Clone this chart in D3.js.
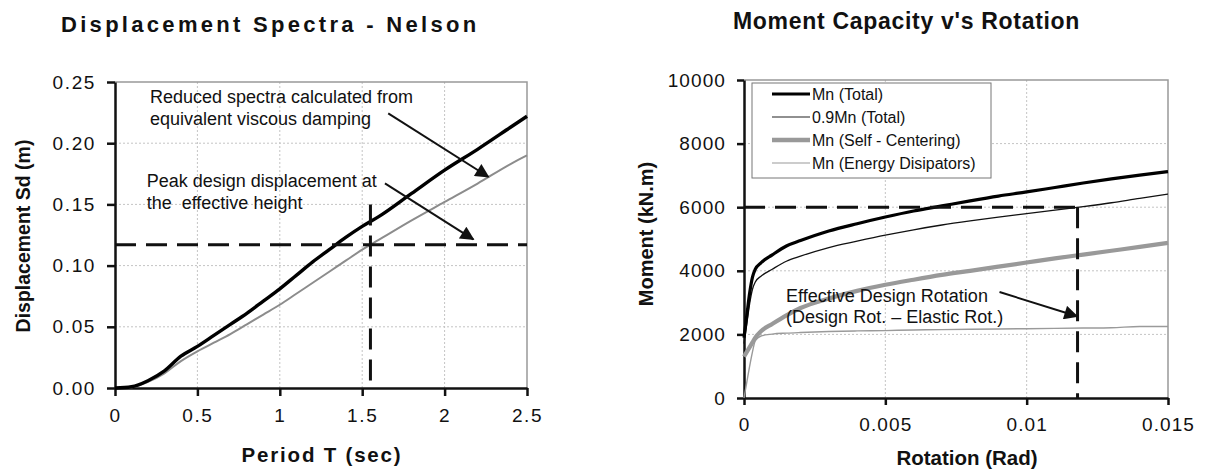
<!DOCTYPE html>
<html>
<head>
<meta charset="utf-8">
<script src="https://d3js.org/d3.v7.min.js"></script>
<style>
  body { margin: 0; background: #fff; }
  svg text { font-family: "Liberation Sans", Arial, sans-serif; fill: #111; }
  .grid line { stroke: #c4c4c4; stroke-width: 1; stroke-dasharray: 2,2; }
  .axis path, .axis line { stroke: #111; stroke-width: 2.5; }
</style>
</head>
<body>
<div id="chart"></div>
<script>
// ---- left panel: displacement spectra ----
var periodT = [0, 0.1, 0.2, 0.3, 0.4, 0.5, 0.6, 0.7, 0.8, 0.9, 1.0, 1.1, 1.2, 1.3, 1.4, 1.5, 1.6, 1.8, 2.0, 2.2, 2.4, 2.5];
var sdSpectrum = [0, 0.001, 0.006, 0.014, 0.026, 0.034, 0.043, 0.052, 0.061, 0.071, 0.081, 0.092, 0.103, 0.113, 0.123, 0.132, 0.140, 0.159, 0.178, 0.195, 0.213, 0.222];
var sdReduced = [0, 0.0005, 0.005, 0.012, 0.022, 0.030, 0.037, 0.044, 0.052, 0.060, 0.068, 0.077, 0.086, 0.095, 0.104, 0.113, 0.121, 0.137, 0.152, 0.167, 0.183, 0.190];
var periodTicks = [0, 0.5, 1, 1.5, 2, 2.5];
var periodLabels = ["0", "0.5", "1", "1.5", "2", "2.5"];
var sdTicks = [0, 0.05, 0.10, 0.15, 0.20, 0.25];
var sdLabels = ["0.00", "0.05", "0.10", "0.15", "0.20", "0.25"];
var designT = 1.55, designTopSd = 0.15, designSd = 0.117;

// ---- right panel: moment capacity ----
var rotation = [0, 0.0001, 0.0002, 0.0003, 0.0004, 0.0006, 0.001, 0.0015, 0.002, 0.003, 0.004, 0.005, 0.006, 0.007, 0.008, 0.009, 0.010, 0.011, 0.012, 0.013, 0.014, 0.015];
var mnTotal = [1900, 2600, 3300, 3800, 4050, 4250, 4500, 4780, 4950, 5250, 5480, 5690, 5880, 6040, 6200, 6350, 6480, 6620, 6760, 6890, 7010, 7120];
var mn90Total = [1710, 2340, 2970, 3420, 3650, 3830, 4050, 4300, 4460, 4730, 4930, 5120, 5290, 5440, 5570, 5690, 5800, 5910, 6020, 6140, 6280, 6410];
var mnSelfCentering = [1300, 1450, 1600, 1750, 1900, 2100, 2330, 2600, 2830, 3130, 3370, 3560, 3720, 3870, 4000, 4130, 4260, 4390, 4510, 4630, 4750, 4880];
var mnEnergyDiss = [0, 500, 1000, 1450, 1800, 1950, 2010, 2040, 2060, 2090, 2110, 2120, 2140, 2150, 2160, 2170, 2180, 2190, 2200, 2210, 2250, 2250];
var rotTicks = [0, 0.005, 0.01, 0.015];
var rotLabels = ["0", "0.005", "0.01", "0.015"];
var momentTicks = [0, 2000, 4000, 6000, 8000, 10000];
var seriesNames = ["Mn (Total)", "0.9Mn (Total)", "Mn (Self - Centering)", "Mn (Energy Disipators)"];
var designRot = 0.0118, designM = 6000;

var svg = d3.select("#chart").append("svg")
  .attr("width", 1206)
  .attr("height", 470);

// arrow head
svg.append("defs").append("marker")
  .attr("id", "head")
  .attr("viewBox", "0 0 10 10")
  .attr("refX", 9).attr("refY", 5)
  .attr("markerWidth", 8.5).attr("markerHeight", 7)
  .attr("markerUnits", "strokeWidth")
  .attr("orient", "auto")
  .append("path").attr("d", "M0,0 L10,5 L0,10 z").attr("fill", "#111");

function panel(left, top, width, height, xDomain, yDomain) {
  var g = svg.append("g").attr("transform", `translate(${left}, ${top})`);
  var x = d3.scaleLinear().domain(xDomain).range([0, width]);
  var y = d3.scaleLinear().domain(yDomain).range([height, 0]);
  return { g: g, x: x, y: y, w: width, h: height };
}

function frame(p, xTicks, xLabels, yTicks, yLabels, tickSize, spacing) {
  // gridlines
  p.g.append("g").attr("class", "grid")
    .selectAll("line").data(xTicks.slice(1, -1)).enter().append("line")
    .attr("x1", d => p.x(d)).attr("x2", d => p.x(d))
    .attr("y1", 0).attr("y2", p.h);
  p.g.append("g").attr("class", "grid")
    .selectAll("line").data(yTicks.slice(1, -1)).enter().append("line")
    .attr("x1", 0).attr("x2", p.w)
    .attr("y1", d => p.y(d)).attr("y2", d => p.y(d));
  // top / right border
  p.g.append("path")
    .attr("d", `M0,0 H${p.w} V${p.h}`)
    .attr("fill", "none").attr("stroke", "#999").attr("stroke-width", 1.5);

  var xAxis = d3.axisBottom(p.x).tickValues(xTicks)
    .tickFormat((d, i) => xLabels[i]).tickSize(tickSize).tickSizeOuter(0).tickPadding(13);
  var yAxis = d3.axisLeft(p.y).tickValues(yTicks)
    .tickFormat((d, i) => yLabels[i]).tickSize(tickSize).tickSizeOuter(0).tickPadding(11);

  p.g.append("g").attr("class", "axis")
    .attr("transform", `translate(0, ${p.h})`)
    .call(xAxis)
    .selectAll("text").attr("font-size", "19px").attr("letter-spacing", spacing);
  p.g.append("g").attr("class", "axis")
    .call(yAxis)
    .selectAll("text").attr("font-size", "19px").attr("letter-spacing", spacing);
  svg.selectAll(".axis text").attr("fill", "#111");
}

function addLine(p, xs, ys, color, width) {
  var line = d3.line().x((d, i) => p.x(xs[i])).y(d => p.y(d)).curve(d3.curveMonotoneX);
  p.g.append("path").datum(ys)
    .attr("fill", "none").attr("stroke", color).attr("stroke-width", width)
    .attr("stroke-linejoin", "round").attr("d", line);
}

function dashed(p, x1, y1, x2, y2) {
  p.g.append("line")
    .attr("x1", p.x(x1)).attr("y1", p.y(y1)).attr("x2", p.x(x2)).attr("y2", p.y(y2))
    .attr("stroke", "#111").attr("stroke-width", 3).attr("stroke-dasharray", "21,10");
}

function arrow(p, x1, y1, x2, y2) {
  p.g.append("line")
    .attr("x1", p.x(x1)).attr("y1", p.y(y1)).attr("x2", p.x(x2)).attr("y2", p.y(y2))
    .attr("stroke", "#111").attr("stroke-width", 2).attr("marker-end", "url(#head)");
}

function note(p, x0, y0, lines, size, lineGap) {
  var t = p.g.append("text").attr("font-size", size);
  lines.forEach(function(s, i) {
    t.append("tspan").attr("x", p.x(x0)).attr("y", p.y(y0) + i * lineGap)
      .attr("xml:space", "preserve").text(s);
  });
}

// ================= left chart =================
var left = panel(115, 82, 412, 306, [0, 2.5], [0, 0.25]);
frame(left, periodTicks, periodLabels, sdTicks, sdLabels, 8, "1.6px");

addLine(left, periodT, sdReduced, "#8c8c8c", 2);
addLine(left, periodT, sdSpectrum, "#000", 3.4);

dashed(left, 0, designSd, 2.5, designSd);
dashed(left, designT, designTopSd, designT, 0);

note(left, 0.212, 0.2326, ["Reduced spectra calculated from", "equivalent viscous damping"], "18px", 22);
note(left, 0.192, 0.1645, ["Peak design displacement at", "the  effective height"], "18px", 22);
arrow(left, 1.658, 0.2244, 2.265, 0.1726);
arrow(left, 1.638, 0.1672, 2.174, 0.1215);

svg.append("text")
  .attr("x", 61).attr("y", 32)
  .attr("font-size", "22px").attr("font-weight", "bold").attr("letter-spacing", "3.3px")
  .text("Displacement Spectra - Nelson");

svg.append("text")
  .attr("x", 322).attr("y", 462).attr("text-anchor", "middle")
  .attr("font-size", "20.5px").attr("font-weight", "bold").attr("letter-spacing", "1.8px")
  .text("Period T (sec)");

svg.append("text")
  .attr("transform", "translate(30, 236) rotate(-90)")
  .attr("text-anchor", "middle")
  .attr("font-size", "19.5px").attr("font-weight", "bold")
  .text("Displacement Sd (m)");

// ================= right chart =================
var right = panel(744, 80, 424, 318, [0, 0.015], [0, 10000]);
frame(right, rotTicks, rotLabels, momentTicks, momentTicks.map(String), 7, "1.1px");

addLine(right, rotation, mnEnergyDiss, "#9a9a9a", 1.4);
addLine(right, rotation, mnSelfCentering, "#999", 4.2);
addLine(right, rotation, mn90Total, "#111", 1.3);
addLine(right, rotation, mnTotal, "#000", 3.2);

dashed(right, 0, designM, designRot, designM);
dashed(right, designRot, designM, designRot, 0);

note(right, 0.00149, 3019, ["Effective Design Rotation", "(Design Rot. \u2013 Elastic Rot.)"], "18px", 21);
arrow(right, 0.00904, 3333, 0.01178, 2569);

// legend
var legend = svg.append("g").attr("transform", "translate(752, 83)");
legend.append("rect").attr("width", 239).attr("height", 95)
  .attr("fill", "#fff").attr("stroke", "#777").attr("stroke-width", 1);
var legendStyle = [["#000", 3], ["#222", 1.2], ["#999", 4.5], ["#9a9a9a", 1.2]];
var rows = legend.selectAll(".lg").data(seriesNames).enter().append("g")
  .attr("transform", (d, i) => `translate(0, ${11 + i * 23})`);
rows.append("line").attr("x1", 20).attr("x2", 58)
  .attr("stroke", (d, i) => legendStyle[i][0])
  .attr("stroke-width", (d, i) => legendStyle[i][1]);
rows.append("text").attr("x", 60).attr("y", 5.5)
  .attr("font-size", "16px").text(d => d);

svg.append("text")
  .attr("x", 733).attr("y", 29)
  .attr("font-size", "23px").attr("font-weight", "bold").attr("letter-spacing", "0.7px")
  .text("Moment Capacity v's Rotation");

svg.append("text")
  .attr("x", 967).attr("y", 465).attr("text-anchor", "middle")
  .attr("font-size", "20.5px").attr("font-weight", "bold")
  .text("Rotation (Rad)");

svg.append("text")
  .attr("transform", "translate(653, 234) rotate(-90)")
  .attr("text-anchor", "middle")
  .attr("font-size", "20px").attr("font-weight", "bold")
  .text("Moment (kN.m)");
</script>
</body>
</html>
